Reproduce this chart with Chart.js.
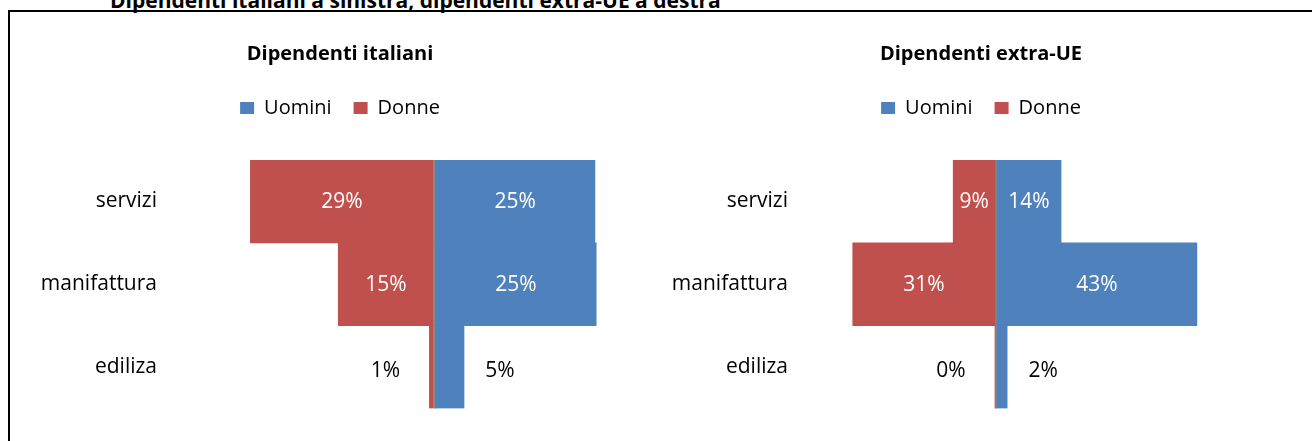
<!DOCTYPE html>
<html>
<head>
<meta charset="utf-8">
<script src="https://cdn.jsdelivr.net/npm/chart.js@4.4.1/dist/chart.umd.min.js"></script>
<style>
  html, body { margin: 0; padding: 0; background: #fff; width: 1312px; height: 441px; overflow: hidden; font-family: "Open Sans", sans-serif; }
  #frame { position: absolute; left: 8px; top: 10px; width: 1400px; height: 500px; border-top: 2px solid #000; border-left: 2px solid #000; }
  #head { position: absolute; left: 110px; top: -14px; font: bold 21px "Open Sans", sans-serif; white-space: nowrap; color: #000; }
  .box { position: absolute; top: 20px; height: 409px; }
  #boxL { left: 0; width: 680px; }
  #boxR { left: 660px; width: 642px; }
</style>
</head>
<body>
<div id="frame"></div>
<div id="head">Dipendenti italiani a sinistra, dipendenti extra-UE a destra</div>
<div class="box" id="boxL"><canvas id="cL"></canvas></div>
<div class="box" id="boxR"><canvas id="cR"></canvas></div>
<script>
const CATEGORIES = ["servizi", "manifattura", "ediliza"];
const SERIES = ["Uomini", "Donne"];

// quote in %
const ITA_UOMINI = [25.0, 25.2, 4.6];
const ITA_DONNE = [28.7, 15.0, 0.8];
const EXTRA_UOMINI = [14.0, 43.2, 2.4];
const EXTRA_DONNE = [9.2, 30.8, 0.2];

const BLUE = "#4F81BD", RED = "#C0504D";
const FONT = "'Open Sans', sans-serif";

const $ = (id) => document.getElementById(id);

// etichette: dentro la barra se c'è spazio, altrimenti fuori in nero
const barLabels = {
  id: "barLabels",
  afterDatasetsDraw(chart) {
    const ctx = chart.ctx;
    ctx.save();
    ctx.font = `21px ${FONT}`;
    ctx.textAlign = "center";
    ctx.textBaseline = "middle";
    chart.data.datasets.forEach((ds, i) => {
      chart.getDatasetMeta(i).data.forEach((bar, j) => {
        const v = ds.data[j];
        const txt = Math.round(Math.abs(v)) + "%";
        const w = Math.abs(bar.x - bar.base);
        if (w > 35) {
          ctx.fillStyle = "#fff";
          ctx.fillText(txt, (bar.x + bar.base) / 2, bar.y + 1);
        } else {
          ctx.fillStyle = "#000";
          ctx.fillText(txt, bar.x + (v < 0 ? -44 : 36), bar.y + 4);
        }
      });
    });
    ctx.restore();
  }
};

// axisW = larghezza asse categorie a sinistra, spareW = spazio vuoto a destra del grafico
function makeChart(id, title, men, women, min, max, axisW, spareW) {
  return new Chart($(id), {
    type: "bar",
    data: {
      labels: CATEGORIES,
      datasets: [
        { label: SERIES[0], data: men, backgroundColor: BLUE, barPercentage: 1, categoryPercentage: 1 },
        { label: SERIES[1], data: women.map(v => -v), backgroundColor: RED, barPercentage: 1, categoryPercentage: 1 }
      ]
    },
    options: {
      indexAxis: "y",
      responsive: true,
      maintainAspectRatio: false,
      animation: false,
      layout: { padding: { bottom: 11 } },
      plugins: {
        title: {
          display: true, text: title, color: "#000",
          font: { family: FONT, size: 20, weight: "bold" },
          padding: { top: 22, bottom: 10 }
        },
        legend: {
          labels: { color: "#000", boxWidth: 14, boxHeight: 12, padding: 22, font: { family: FONT, size: 20 } }
        },
        tooltip: { enabled: false }
      },
      scales: {
        x: {
          position: "top", stacked: true, min, max, z: 1,
          ticks: { display: false, stepSize: 10 },
          border: { display: false },
          grid: { drawTicks: false, lineWidth: 2, color: c => (c.tick && c.tick.value === 0) ? "#868686" : "transparent" },
          afterFit: s => { s.height = 32; }
        },
        y: {
          stacked: true,
          grid: { display: false, drawTicks: false },
          border: { display: false },
          ticks: { color: "#000", padding: 8, font: { family: FONT, size: 21 } },
          afterFit: s => { s.width = axisW; }
        },
        ySpare: {
          type: "category", axis: "y", position: "right",
          grid: { display: false, drawTicks: false },
          border: { display: false },
          ticks: { display: false },
          afterFit: s => { s.width = spareW; }
        }
      }
    },
    plugins: [barLabels]
  });
}

makeChart("cL", "Dipendenti italiani", ITA_UOMINI, ITA_DONNE, -42, 30, 165, 53);
makeChart("cR", "Dipendenti extra-UE", EXTRA_UOMINI, EXTRA_DONNE, -43, 50, 136, 73.5);
</script>
</body>
</html>
